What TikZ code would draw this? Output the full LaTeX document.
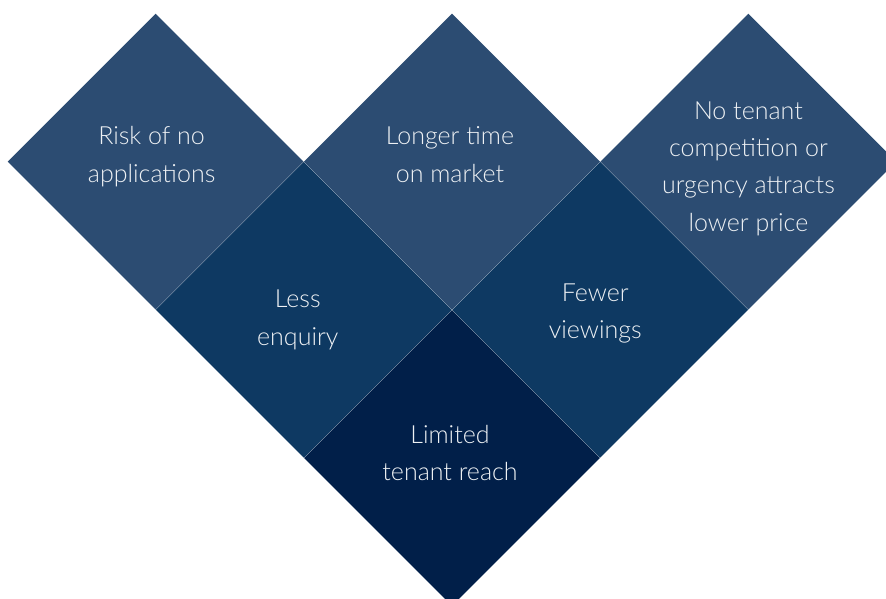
\documentclass[tikz,border=0pt]{standalone}
\usepackage{fontspec}
\setmainfont{Lato}[UprightFont=* Light]
\usetikzlibrary{shapes.geometric}
\definecolor{toprow}{HTML}{2C4C72}
\definecolor{midrow}{HTML}{0E3962}
\definecolor{lowrow}{HTML}{011F49}
\tikzset{
  tile/.style={diamond, inner sep=0pt, minimum width=296pt, minimum height=296pt},
  caption/.style={text=white!92!toprow, align=center, inner sep=0pt,
    font=\fontsize{25}{37.3}\selectfont},
}

\begin{document}
\begin{tikzpicture}[x=1pt,y=-1pt]
  \useasboundingbox (0,0) rectangle (886,598);
  \clip (0,0) rectangle (886,598);
  % bottom of the V
  \node[tile, fill=lowrow] (reach) at (452,458) {};

  % middle row
  \node[tile, fill=midrow, anchor=east] (enquiry) at (reach.north) {};
  \node[tile, fill=midrow, anchor=west] (viewings) at (reach.north) {};

  % top row
  \node[tile, fill=toprow, anchor=east] (risk) at (enquiry.north) {};
  \node[tile, fill=toprow, anchor=south] (market) at (reach.north) {};
  \node[tile, fill=toprow, anchor=west] (price) at (viewings.north) {};

  % texts
  \node[caption] (reachText) at ([shift={(-2,-5)}]reach.center) {Limited\\tenant reach};
  \node[caption] (enquiryText) at ([shift={(-6,10)}]enquiry.center) {Less\\enquiry};
  \node[caption] (viewingsText) at ([shift={(-5,4)}]viewings.center) {Fewer\\viewings};
  \node[caption] (riskText) at ([shift={(-4,-5)}]risk.center) {Risk of no\\applications};
  \node[caption] (marketText) at ([shift={(-2,-7)}]market.center) {Longer time\\on market};
  \node[caption] (priceText) at ([shift={(0,7)}]price.center)
    {No tenant\\competition or\\urgency attracts\\lower price};
\end{tikzpicture}
\end{document}
